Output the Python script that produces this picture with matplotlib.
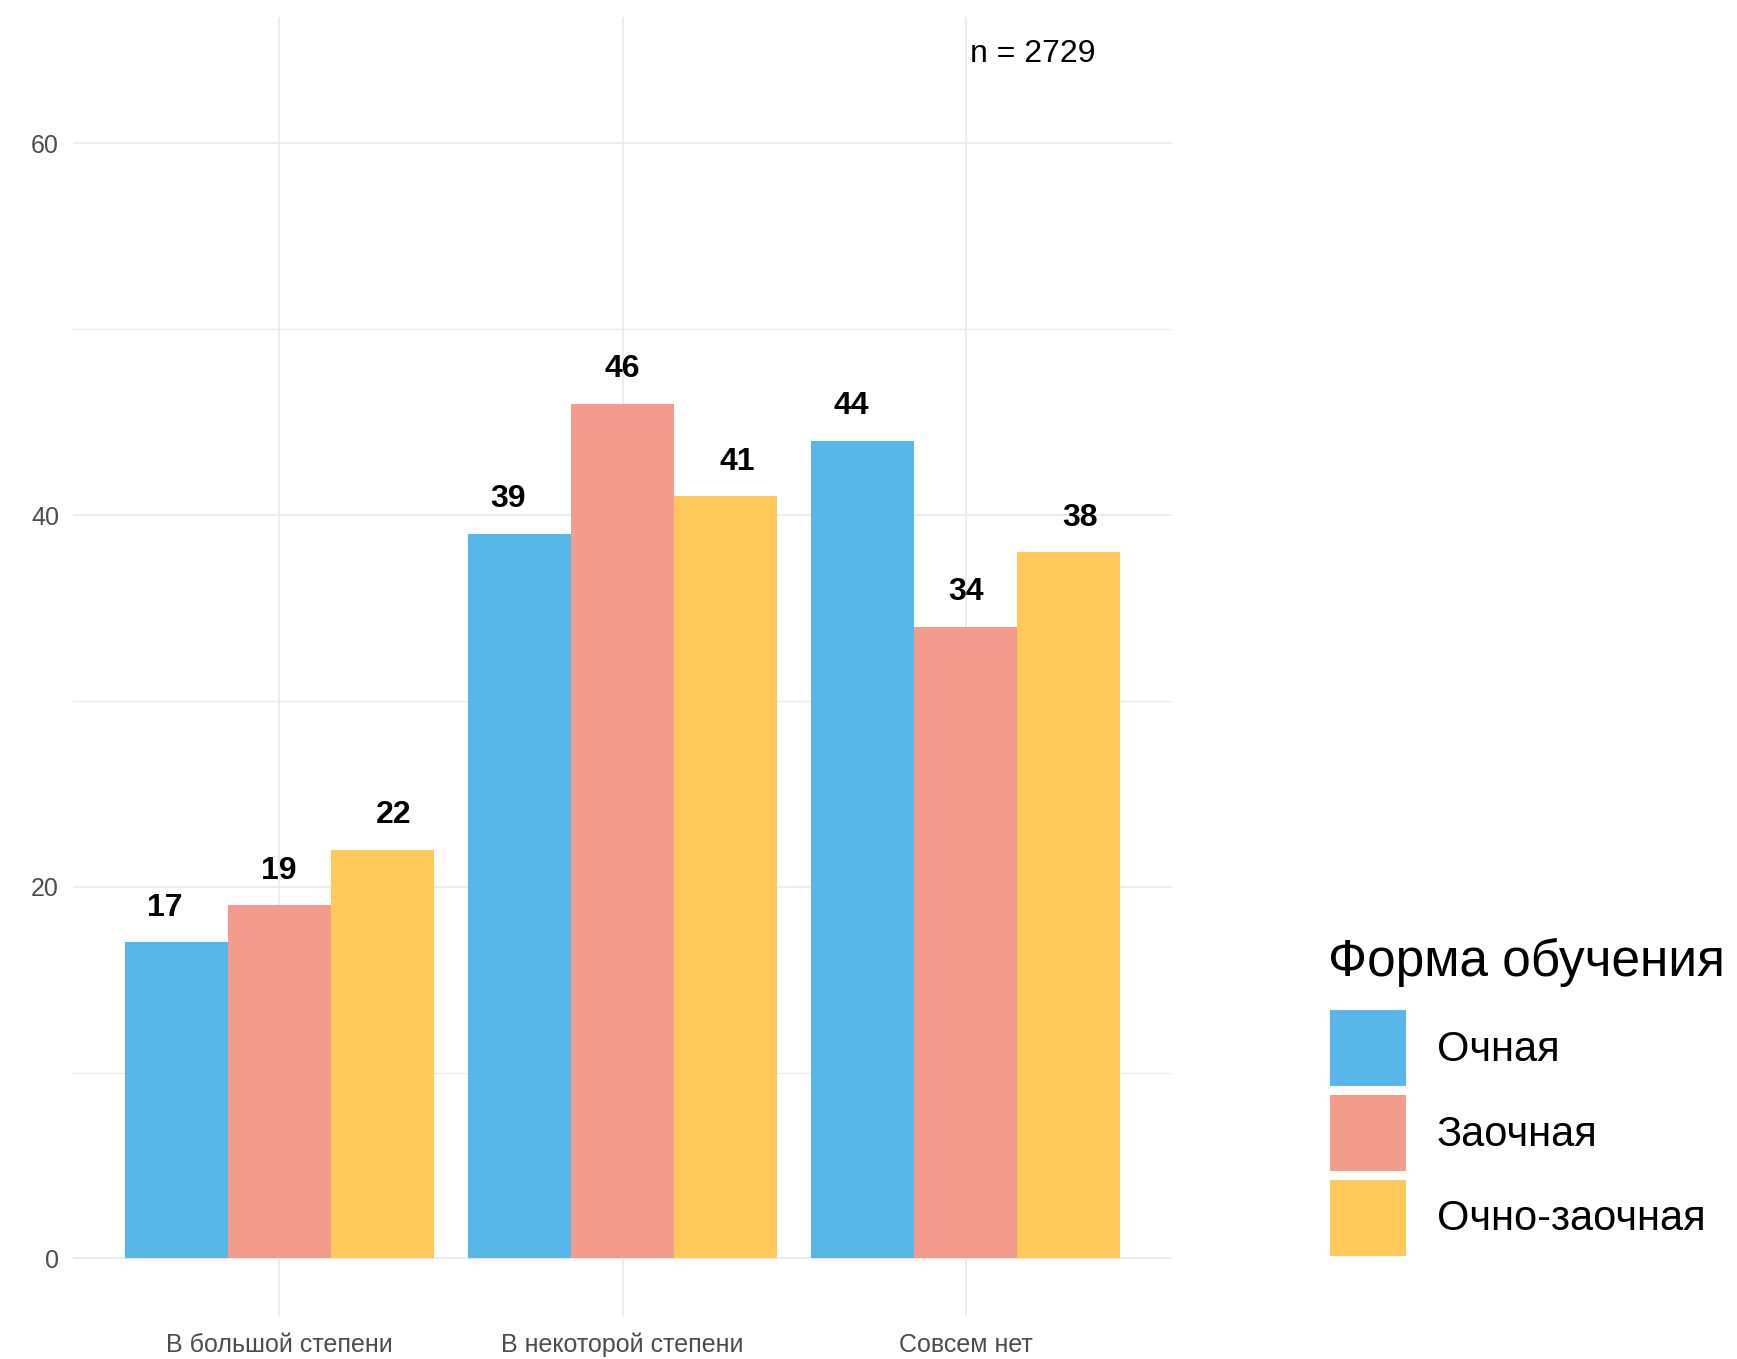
import numpy as np
import matplotlib
matplotlib.use("Agg")
import matplotlib.pyplot as plt
from matplotlib.patches import Patch

plt.rcParams['font.family'] = ['Liberation Sans', 'DejaVu Sans']

# данные
categories = ["В большой степени", "В некоторой степени", "Совсем нет"]
series = ["Очная", "Заочная", "Очно-заочная"]
ochnaya = [17, 39, 44]
zaochnaya = [19, 46, 34]
ochno_zaochnaya = [22, 41, 38]
colors = ["#56B7E8", "#F39B8C", "#FEC85A"]
n_total = 2729

values = [ochnaya, zaochnaya, ochno_zaochnaya]

fig = plt.figure(figsize=(17.37, 13.59), dpi=100)
ax = fig.add_axes([73 / 1737, 1 - 1316 / 1359, (1172 - 73) / 1737, (1316 - 17) / 1359])

x = np.arange(1, len(categories) + 1)
width = 0.3
for i, (vals, col) in enumerate(zip(values, colors)):
    pos = x + (i - 1) * width
    ax.bar(pos, vals, width=width, color=col, zorder=3)
    # подписи сдвинуты с шириной dodge = 1
    for p, v in zip(x + (i - 1) / 3, vals):
        ax.text(p, v + 1.85, str(v), ha='center', va='center',
                fontsize=23, fontweight='bold', color='black', zorder=4)

ax.text(3.195, 64.8, f"n = {n_total}", ha='center', va='center', fontsize=23, color='black')

ax.set_xlim(0.4, 3.6)
ax.set_ylim(-3.1, 66.8)
ax.set_xticks(x)
ax.set_xticklabels(categories, fontsize=18, color='#4D4D4D')
ax.set_yticks([0, 20, 40, 60])
ax.set_yticks([10, 30, 50], minor=True)
ax.tick_params(axis='y', labelsize=18, labelcolor='#4D4D4D', length=0, pad=10)
ax.tick_params(axis='y', which='minor', length=0)
ax.tick_params(axis='x', length=0, pad=12)
ax.grid(True, which='major', color='#EBEBEB', linewidth=1.3, zorder=0)
ax.grid(True, which='minor', axis='y', color='#EBEBEB', linewidth=1.0, zorder=0)
for s in ax.spines.values():
    s.set_visible(False)

# легенда
fig.text(1328 / 1737, 1 - 962 / 1359, "Форма обучения", fontsize=37,
         ha='left', va='center', color='black')
handles = [Patch(facecolor=c, edgecolor='white', linewidth=1.5) for c in colors]
fs = 30
leg = fig.legend(handles, series, loc='upper left',
                 bbox_to_anchor=(1329 / 1737, 1 - 1009 / 1359),
                 frameon=False, fontsize=fs, borderpad=0,
                 handlelength=78 / (fs / 0.72 * 1.0), handleheight=3.0 * 34.7 / (fs / 0.72),
                 labelspacing=7 / (fs / 0.72),
                 handletextpad=30 / (fs / 0.72), borderaxespad=0)

fig.savefig("out.png", dpi=100)
